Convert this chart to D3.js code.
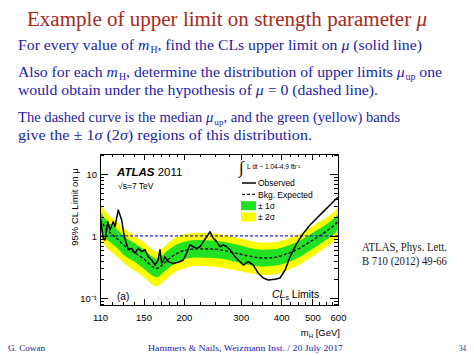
<!DOCTYPE html>
<html><head><meta charset="utf-8">
<script src="https://cdn.jsdelivr.net/npm/d3@7/dist/d3.min.js"></script>
<style>body{margin:0;background:#fff}svg{display:block}</style>
</head><body>
<svg id="c" width="474" height="355"></svg>
<script>
// ---- data ----
const obsMass = [110,112.6,114,116.2,118.1,120.9,122.4,125.3,128.4,130.8,134.6,137.9,141.2,144.5,148.1,151.6,155.2,159,162.8,166.6,168.7,170.7,174.8,178.9,185.4,194.5,199.1,204,209,214,219.2,224.4,229.7,235.4,241,246.7,252.8,258.8,264.9,271.4,277.9,288,298.4,305.5,316.6,328.1,340,352.3,365.1,383,396.9,411.3,426.2,447.1,468.6,491.6,515.6,540.4,566.8,594.5,600];
const obsLimit = [2.05,0.92,0.86,1.7,1.25,1.7,1.41,2.63,1.81,0.97,0.6,0.63,0.53,0.63,0.56,0.6,0.46,0.41,0.34,0.41,0.6,0.36,0.46,0.385,0.36,0.385,0.41,0.53,0.72,0.67,0.63,0.67,0.81,0.97,1.17,0.92,0.81,0.67,0.72,0.67,0.6,0.46,0.385,0.34,0.385,0.34,0.25,0.21,0.195,0.2,0.21,0.28,0.46,0.76,1.1,1.5,1.93,2.47,3.16,4.05,4.2];

const expMass   = [110,115,120,125,130,140,150,160,165,170,180,190,200,220,250,280,320,350,380,410,450,490,540,580,600];
const expMedian = [1.85,1.3,1.05,0.88,0.72,0.55,0.43,0.32,0.3,0.33,0.43,0.52,0.58,0.62,0.61,0.55,0.47,0.44,0.45,0.5,0.61,0.8,1.1,1.45,1.72];
const expPlus2  = [3.3,2.4,1.95,1.63,1.34,1.02,0.8,0.6,0.56,0.61,0.8,0.96,1.06,1.13,1.1,0.99,0.84,0.78,0.79,0.87,1.05,1.36,1.84,2.4,2.85];
const expPlus1  = [2.55,1.8,1.47,1.24,1.01,0.78,0.61,0.46,0.43,0.47,0.61,0.73,0.81,0.86,0.84,0.76,0.64,0.6,0.61,0.67,0.81,1.05,1.43,1.88,2.22];
const expMinus1 = [1.3,0.91,0.74,0.62,0.5,0.39,0.3,0.23,0.215,0.24,0.31,0.37,0.42,0.45,0.44,0.4,0.34,0.32,0.33,0.36,0.44,0.58,0.8,1.06,1.26];
const expMinus2 = [0.95,0.66,0.54,0.45,0.37,0.28,0.22,0.163,0.154,0.17,0.22,0.27,0.3,0.33,0.32,0.29,0.25,0.235,0.24,0.27,0.33,0.44,0.61,0.81,0.96];

const xTickLabels = [110,150,200,300,400,500,600];
const xMinorTicks = [120,130,140,160,170,180,190,225,250,275,325,350,375,425,450,475,525,550,575];
const yTickLabels = [0.1,1,10];
const yMinorTicks = [0.08,0.09,0.2,0.3,0.4,0.5,0.6,0.7,0.8,0.9,2,3,4,5,6,7,8,9,20];
const referenceLine = 1;

// ---- drawing ----
const svg = d3.select('#c');
svg.append('rect').attr('width',474).attr('height',355).attr('fill','#fff');

const L=100,R=338,T=154,B=305;
const x = d3.scaleLog().domain([110,600]).range([L,R]);
const y = d3.scaleLog().domain([0.077,21]).range([B,T]);

const SANS = "'Liberation Sans', Arial, sans-serif";
const SERIF = "'Liberation Serif', 'Times New Roman', serif";
const BLUE = '#1c1ca8';

// slide texts
function line(xp, yp, w, size, color, parts, family){
  const t = svg.append('text').attr('x',xp).attr('y',yp).attr('font-family',family||SERIF)
    .attr('font-size',size).attr('fill',color);
  if (w) t.attr('textLength',w).attr('lengthAdjust','spacingAndGlyphs');
  parts.forEach(p=>{
    const s = t.append('tspan').text(p.t);
    if (p.i) s.attr('font-style','italic');
    if (p.sub) s.attr('font-size',size*0.62).attr('dy',size*0.22).attr('dx',1);
    if (p.back) s.attr('dy',-size*0.22);
  });
  return t;
}
line(27,26,400,20,'#a8291c',[{t:'Example of upper limit on strength parameter '},{t:'μ',i:1}]);
line(18,50,404,15,BLUE,[{t:'For every value of '},{t:'m',i:1},{t:'H',sub:1},{t:', find the CLs upper limit on ',back:1},{t:'μ',i:1},{t:' (solid line)'}]);
line(18,77,424,15,BLUE,[{t:'Also for each '},{t:'m',i:1},{t:'H',sub:1},{t:', determine the distribution of upper limits ',back:1},{t:'μ',i:1},{t:'up',sub:1},{t:' one',back:1}]);
line(18,95,360,15,BLUE,[{t:'would obtain under the hypothesis of '},{t:'μ',i:1},{t:' = 0 (dashed line).'}]);
line(18,122,null,14.6,BLUE,[{t:'The dashed curve is the median '},{t:'μ',i:1},{t:'up',sub:1},{t:', and the green (yellow) bands',back:1}]);
line(18,140,294,15,BLUE,[{t:'give the ± 1'},{t:'σ',i:1},{t:' (2'},{t:'σ',i:1},{t:') regions of this distribution.'}]);

line(362,251,85,12,'#1a1a1a',[{t:'ATLAS, Phys. Lett.'}]);
line(362,265,85,12,'#1a1a1a',[{t:'B 710 (2012) 49-66'}]);
line(8,351,37,9,BLUE,[{t:'G. Cowan'}]);
line(148,351,195,9,BLUE,[{t:'Hammers & Nails, Weizmann Inst. / 20 July 2017'}]);
line(459,351,7,9,BLUE,[{t:'34'}]);

// chart
const defs = svg.append('defs');
defs.append('clipPath').attr('id','clip').append('rect').attr('x',L).attr('y',T).attr('width',R-L).attr('height',B-T);
const plot = svg.append('g').attr('clip-path','url(#clip)');

const idx = d3.range(expMass.length);
const band = (lo,hi) => d3.area().x(i=>x(expMass[i])).y0(i=>y(lo[i])).y1(i=>y(hi[i])).curve(d3.curveMonotoneX);
plot.append('path').datum(idx).attr('d',band(expMinus2,expPlus2)).attr('fill','#fbfb00');
plot.append('path').datum(idx).attr('d',band(expMinus1,expPlus1)).attr('fill','#22e022');

plot.append('line').attr('x1',L).attr('x2',R).attr('y1',y(referenceLine)).attr('y2',y(referenceLine))
  .attr('stroke','#2b2bd0').attr('stroke-width',1.3).attr('stroke-dasharray','3,2');

plot.append('path').datum(idx)
  .attr('d',d3.line().x(i=>x(expMass[i])).y(i=>y(expMedian[i])).curve(d3.curveMonotoneX))
  .attr('fill','none').attr('stroke','#111').attr('stroke-width',1.4).attr('stroke-dasharray','3,2');

plot.append('path').datum(d3.range(obsMass.length))
  .attr('d',d3.line().x(i=>x(obsMass[i])).y(i=>y(obsLimit[i])))
  .attr('fill','none').attr('stroke','#000').attr('stroke-width',1.5).attr('stroke-linejoin','round');

// axes (ticks inward, ROOT style)
function ax(gen, tr){
  const g = svg.append('g').attr('transform',tr).call(gen);
  g.select('.domain').remove();
  g.selectAll('line').attr('stroke','#000').attr('shape-rendering','crispEdges');
  g.selectAll('text').attr('font-family',SANS).attr('font-size',9.5).attr('fill','#000');
  return g;
}
ax(d3.axisBottom(x).tickValues(xTickLabels).tickSize(-6).tickPadding(9).tickFormat(d3.format('d')),`translate(0,${B})`);
ax(d3.axisBottom(x).tickValues(xMinorTicks).tickSize(-3).tickFormat(''),`translate(0,${B})`);
ax(d3.axisTop(x).tickValues(xTickLabels).tickSize(-6).tickFormat(''),`translate(0,${T})`);
ax(d3.axisTop(x).tickValues(xMinorTicks).tickSize(-3).tickFormat(''),`translate(0,${T})`);
ax(d3.axisLeft(y).tickValues(yTickLabels).tickSize(-8).tickPadding(3).tickFormat(d=>d===0.1?'10⁻¹':d3.format('d')(d)),`translate(${L},0)`);
ax(d3.axisLeft(y).tickValues(yMinorTicks).tickSize(-4).tickFormat(''),`translate(${L},0)`);
ax(d3.axisRight(y).tickValues(yTickLabels).tickSize(-8).tickFormat(''),`translate(${R},0)`);
ax(d3.axisRight(y).tickValues(yMinorTicks).tickSize(-4).tickFormat(''),`translate(${R},0)`);

svg.append('rect').attr('x',L).attr('y',T).attr('width',R-L).attr('height',B-T)
  .attr('fill','none').attr('stroke','#000').attr('stroke-width',1).attr('shape-rendering','crispEdges');

// axis titles
svg.append('text').attr('transform','translate(78,207) rotate(-90)').attr('text-anchor','middle')
  .attr('font-family',SANS).attr('font-size',9.5).text('95% CL Limit on μ');
const xt = svg.append('text').attr('x',340).attr('y',336).attr('text-anchor','end').attr('font-family',SANS).attr('font-size',9.5);
xt.append('tspan').text('m');
xt.append('tspan').text('H').attr('font-size',6).attr('dy',2);
xt.append('tspan').text(' [GeV]').attr('dy',-2);

// in-plot labels
const at = svg.append('text').attr('x',117).attr('y',176).attr('font-family',SANS).attr('font-size',11.5);
at.append('tspan').text('ATLAS').attr('font-weight','bold').attr('font-style','italic');
at.append('tspan').text(' 2011');
svg.append('text').attr('x',118).attr('y',189).attr('font-family',SANS).attr('font-size',8.5).text('√s=7 TeV');
svg.append('text').attr('x',117).attr('y',300).attr('font-family',SANS).attr('font-size',10).text('(a)');
const cl = svg.append('text').attr('x',272).attr('y',298).attr('font-family',SANS).attr('font-size',10.5);
cl.append('tspan').text('CL').attr('font-style','italic');
cl.append('tspan').text('s').attr('font-size',7).attr('dy',2);
cl.append('tspan').text(' Limits').attr('dy',-2);

// legend
svg.append('text').attr('x',239).attr('y',173).attr('font-family',SERIF).attr('font-size',17).text('∫');
svg.append('text').attr('x',247).attr('y',169).attr('font-family',SANS).attr('font-size',6.5).text('L dt ~ 1.04-4.9 fb⁻¹');
const lg = [{t:'Observed',k:'obs'},{t:'Bkg. Expected',k:'exp'},{t:'± 1σ',k:'g'},{t:'± 2σ',k:'yl'}];
const ly = d3.scalePoint().domain(lg.map(d=>d.t)).range([183,217]);
lg.forEach(d=>{
  const yy = ly(d.t);
  if (d.k==='obs') svg.append('line').attr('x1',242).attr('x2',256).attr('y1',yy).attr('y2',yy).attr('stroke','#000').attr('stroke-width',1.5);
  if (d.k==='exp') svg.append('line').attr('x1',242).attr('x2',256).attr('y1',yy).attr('y2',yy).attr('stroke','#111').attr('stroke-width',1.4).attr('stroke-dasharray','3,2');
  if (d.k==='g') svg.append('rect').attr('x',241).attr('y',yy-4.5).attr('width',15).attr('height',9).attr('fill','#22e022');
  if (d.k==='yl') svg.append('rect').attr('x',241).attr('y',yy-4.5).attr('width',15).attr('height',9).attr('fill','#fbfb00');
  svg.append('text').attr('x',258).attr('y',yy+3.3).attr('font-family',SANS).attr('font-size',8.5).text(d.t);
});
</script>
</body></html>
